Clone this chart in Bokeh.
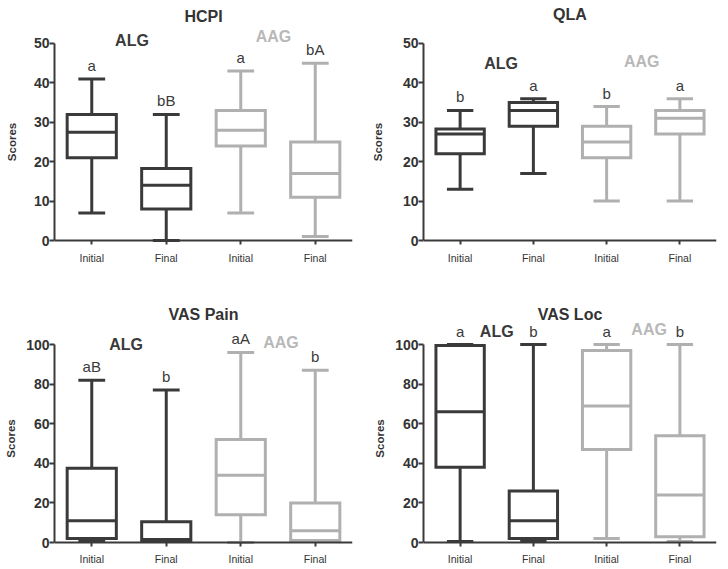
from bokeh.plotting import figure
from bokeh.layouts import gridplot
from bokeh.models import Range1d, FixedTicker, Label, LabelSet, ColumnDataSource
from bokeh.core.properties import value
from bokeh.embed import file_html
from bokeh.resources import INLINE

# ---------------- data ----------------
categories = ["Initial", "Final", "Initial", "Final"]
groups = ["ALG", "ALG", "AAG", "AAG"]

hcpi_low = [7, 0, 7, 1]
hcpi_q1 = [21, 8, 24, 11]
hcpi_med = [27.5, 14, 28, 17]
hcpi_q3 = [32, 18.3, 33, 25]
hcpi_high = [41, 32, 43, 45]
hcpi_letters = ["a", "bB", "a", "bA"]

qla_low = [13, 17, 10, 10]
qla_q1 = [22, 29, 21, 27]
qla_med = [27, 33, 25, 31]
qla_q3 = [28.3, 35, 29, 33]
qla_high = [33, 36, 34, 36]
qla_letters = ["b", "a", "b", "a"]

pain_low = [0.5, 0.5, 0, 0.5]
pain_q1 = [2, 0.8, 14, 1]
pain_med = [11, 1.5, 34, 6]
pain_q3 = [37.5, 10.5, 52, 20]
pain_high = [82, 77, 96, 87]
pain_letters = ["aB", "b", "aA", "b"]

loc_low = [0.5, 0.5, 2, 0.5]
loc_q1 = [38, 2, 47, 3]
loc_med = [66, 11, 69, 24]
loc_q3 = [99.5, 26, 97, 54]
loc_high = [100, 100, 100, 100]
loc_letters = ["a", "b", "a", "b"]

# ---------------- style ----------------
DARK = "#3a3a3a"
LIGHT = "#b0b0b0"
AAG_TEXT = "#b8b8b8"
FONT = "Liberation Sans"
BOX_W = 0.66
CAP_W = 0.36
box_colors = [DARK, DARK, LIGHT, LIGHT]


def panel(title, low, q1, med, q3, high, letters, ymax, step, height,
          yr, borders, title_y, alg_xy, aag_xy, label_standoff, xlab_standoff):
    b_left, b_right, b_top, b_bottom = borders
    p = figure(width=364, height=height, output_backend="svg",
               toolbar_location=None, title=None,
               x_range=Range1d(0.5, 4.5), y_range=Range1d(*yr),
               min_border_left=b_left, min_border_right=b_right,
               min_border_top=b_top, min_border_bottom=b_bottom)
    p.outline_line_color = None
    p.grid.visible = False
    p.background_fill_color = "white"
    p.border_fill_color = "white"

    xs = [1, 2, 3, 4]
    src = ColumnDataSource(dict(
        x=xs, low=low, q1=q1, med=med, q3=q3, high=high,
        color=box_colors, letters=letters,
        bl=[x - BOX_W / 2 for x in xs], br=[x + BOX_W / 2 for x in xs],
        cl=[x - CAP_W / 2 for x in xs], cr=[x + CAP_W / 2 for x in xs],
    ))
    # whiskers
    p.segment(x0="x", x1="x", y0="low", y1="high", source=src,
              line_color="color", line_width=3)
    # caps
    p.segment(x0="cl", x1="cr", y0="high", y1="high", source=src,
              line_color="color", line_width=3)
    p.segment(x0="cl", x1="cr", y0="low", y1="low", source=src,
              line_color="color", line_width=3)
    # boxes
    p.vbar(x="x", width=BOX_W, bottom="q1", top="q3", source=src,
           fill_color="white", line_color="color", line_width=3,
           line_join="miter")
    # medians
    p.segment(x0="bl", x1="br", y0="med", y1="med", source=src,
              line_color="color", line_width=3)

    # significance letters
    p.add_layout(LabelSet(x="x", y="high", text="letters", source=src,
                          y_offset=8, text_align="center",
                          text_baseline="alphabetic",
                          text_font=value(FONT),
                          text_font_size=value("15px"),
                          text_color=DARK))

    # panel title
    p.add_layout(Label(x=2.5, y=title_y, text=title,
                       text_align="center", text_baseline="middle",
                       text_font=FONT, text_font_style="bold",
                       text_font_size="16px", text_color="#333333"))
    # group labels
    p.add_layout(Label(x=alg_xy[0], y=alg_xy[1], text=groups[0],
                       text_align="center", text_baseline="middle",
                       text_font=FONT, text_font_style="bold",
                       text_font_size="16px", text_color=DARK))
    p.add_layout(Label(x=aag_xy[0], y=aag_xy[1], text=groups[2],
                       text_align="center", text_baseline="middle",
                       text_font=FONT, text_font_style="bold",
                       text_font_size="16px", text_color=AAG_TEXT))

    # axes
    for ax in (p.xaxis[0], p.yaxis[0]):
        ax.axis_line_color = DARK
        ax.axis_line_width = 2
        ax.major_tick_line_color = DARK
        ax.major_tick_line_width = 2
        ax.major_tick_in = 0
        ax.minor_tick_line_color = None
        ax.major_label_text_color = "#333333"
        ax.major_label_text_font = FONT

    p.xaxis.fixed_location = 0
    p.xaxis.ticker = FixedTicker(ticks=xs)
    p.xaxis.major_label_overrides = {x: c for x, c in zip(xs, categories)}
    p.xaxis.major_tick_out = 4
    p.xaxis.major_label_standoff = xlab_standoff
    p.xaxis.major_label_text_font_size = "10.5px"

    p.yaxis.ticker = FixedTicker(ticks=list(range(0, ymax + 1, step)))
    p.yaxis.bounds = (0, ymax)
    p.yaxis.major_tick_out = 5
    p.yaxis.major_label_standoff = 0
    p.yaxis.major_label_text_font_size = "14px"
    p.yaxis.major_label_text_font_style = "bold"
    p.yaxis.axis_label = "Scores"
    p.yaxis.axis_label_text_font = FONT
    p.yaxis.axis_label_text_font_size = "11.5px"
    p.yaxis.axis_label_text_font_style = "bold"
    p.yaxis.axis_label_text_color = "#333333"
    p.yaxis.axis_label_standoff = label_standoff
    return p


p1 = panel("HCPI", hcpi_low, hcpi_q1, hcpi_med, hcpi_q3, hcpi_high,
           hcpi_letters, 50, 10, 290, (-10.91, 60.91), (54, 12, 0, 7),
           56.85, (1.54, 50.8), (3.44, 51.8), 13, 7)
p2 = panel("QLA", qla_low, qla_q1, qla_med, qla_q3, qla_high,
           qla_letters, 50, 10, 290, (-10.91, 60.91), (59, 7, 0, 7),
           57.4, (1.56, 44.9), (3.48, 45.4), 16, 7)
p3 = panel("VAS Pain", pain_low, pain_q1, pain_med, pain_q3, pain_high,
           pain_letters, 100, 20, 279, (-13.6, 118.7), (54, 12, 17, 0),
           115.2, (1.46, 100), (3.54, 101), 6, 6)
p4 = panel("VAS Loc", loc_low, loc_q1, loc_med, loc_q3, loc_high,
           loc_letters, 100, 20, 279, (-13.6, 118.7), (57, 12, 17, 0),
           115.2, (1.50, 106.6), (3.58, 107.6), 6, 6)

grid = gridplot([[p1, p2], [p3, p4]], toolbar_location=None)

open("out.html", "w").write(file_html(grid, INLINE))
